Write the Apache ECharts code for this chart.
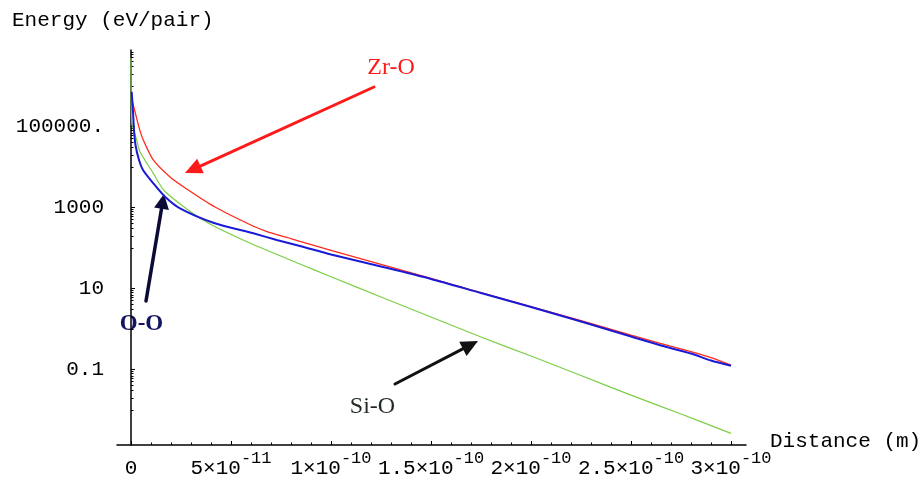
<!DOCTYPE html>
<html>
<head>
<meta charset="utf-8">
<script src="https://cdn.jsdelivr.net/npm/echarts@6/dist/echarts.min.js"></script>
<style>
  html, body { margin: 0; padding: 0; background: #ffffff; }
  #chart { width: 922px; height: 483px; }
</style>
</head>
<body>
<div id="chart"></div>
<script>
// Pair interaction energy (eV/pair) against interatomic distance (m)

// Zr-O pair
const distZrO = [3.5e-13, 2.0e-12, 4.15e-12, 6.15e-12, 1.115e-11, 1.95e-11, 2.785e-11,
  4.2e-11, 6.1e-11, 6.8e-11, 7.8e-11, 8.45e-11, 1.0e-10, 1.25e-10, 1.5e-10, 1.75e-10,
  2.0e-10, 2.25e-10, 2.5e-10, 2.65e-10, 2.8e-10, 2.9e-10, 3.0e-10];
const energyZrO = [4.97e5, 2.32e5, 9.0e4, 4.64e4, 1.49e4, 5660, 2870,
  1028, 349, 255, 182, 145, 87.7, 39.2, 17.7, 7.96,
  3.59, 1.62, 0.711, 0.439, 0.278, 0.198, 0.129];

// O-O pair
const distOO = [3.5e-13, 1.0e-12, 1.5e-12, 2.25e-12, 4.0e-12, 6.0e-12, 1.115e-11, 1.7e-11,
  2.45e-11, 4.115e-11, 6.115e-11, 7.285e-11, 8.45e-11, 1.0e-10, 1.25e-10, 1.5e-10, 1.75e-10,
  2.0e-10, 2.25e-10, 2.5e-10, 2.65e-10, 2.8e-10, 2.9e-10, 3.0e-10];
const energyOO = [7.22e5, 2.32e5, 8.2e4, 3.49e4, 1.49e4, 8430, 3960, 1850,
  955, 422, 231, 158, 112, 69.1, 34.9, 17.2, 7.74,
  3.49, 1.53, 0.653, 0.392, 0.248, 0.167, 0.124];

// Si-O pair
const distSiO = [0, 3.5e-13, 2.85e-12, 4.5e-12, 1.115e-11, 1.7e-11, 3.6e-11, 5.6e-11,
  8.45e-11, 1.0e-10, 1.25e-10, 1.5e-10, 1.75e-10, 2.0e-10, 2.25e-10, 2.5e-10, 2.75e-10, 3.0e-10];
const energySiO = [4.91e6, 1.32e5, 4.64e4, 2.39e4, 6980, 2480, 491, 158,
  40.3, 19.5, 6.17, 1.98, 0.634, 0.215, 0.0711, 0.0234, 0.00796, 0.00266];

// Axis ticks
const xTickValues = [0, 0.5e-10, 1.0e-10, 1.5e-10, 2.0e-10, 2.5e-10, 3.0e-10];
const xTickLabels = ['0', '5×10^-11', '1×10^-10', '1.5×10^-10', '2×10^-10', '2.5×10^-10', '3×10^-10'];
const yTickValues = [0.1, 10, 1000, 100000];
const yTickLabels = ['0.1', '10', '1000', '100000.'];

const X_MIN = -0.07e-10, X_MAX = 3.075e-10;
const Y_MIN = 0.00137, Y_MAX = 7.74e6;

const MONO = '"Liberation Mono", "Courier New", monospace';
const SERIF = '"Liberation Serif", "Times New Roman", serif';

// minor ticks: every 1e-11 on x; 10^e and 2..9 x 10^e for even e on y
const xMinor = [];
for (let k = 1; k <= 30; k++) { if (k % 5 !== 0) xMinor.push(k * 1e-11); }
const yMinor = [];
[-2, 0, 2, 4, 6].forEach(e => {
  for (let m = 1; m <= 9; m++) {
    const v = m * Math.pow(10, e);
    if (v > Y_MIN && v < Y_MAX) yMinor.push(v);
  }
});

function pairs(xs, ys) { return xs.map((x, i) => [x, ys[i]]); }

function xLabel(v) {
  const i = xTickValues.findIndex(t => Math.abs(t - v) < 1e-13);
  if (i < 0) return '';
  const parts = xTickLabels[i].split('^');
  return parts.length > 1 ? '{b|' + parts[0] + '}{s|' + parts[1] + '}' : '{b|' + parts[0] + '}';
}
function yLabel(v) {
  const i = yTickValues.findIndex(t => Math.abs(Math.log10(t) - Math.log10(v)) < 1e-6);
  return i < 0 ? '' : yTickLabels[i];
}

// straight arrow with a filled triangular head
function arrow(tail, tip, color, lw, headLen, headHalf) {
  const dx = tip[0] - tail[0], dy = tip[1] - tail[1];
  const len = Math.hypot(dx, dy), ux = dx / len, uy = dy / len;
  const bx = tip[0] - ux * headLen, by = tip[1] - uy * headLen;
  return [
    { type: 'line', silent: true,
      shape: { x1: tail[0], y1: tail[1], x2: bx + ux * 2, y2: by + uy * 2 },
      style: { stroke: color, lineWidth: lw, lineCap: 'round' } },
    { type: 'polygon', silent: true,
      shape: { points: [tip, [bx - uy * headHalf, by + ux * headHalf], [bx + uy * headHalf, by - ux * headHalf]] },
      style: { fill: color } }
  ];
}

const chart = echarts.init(document.getElementById('chart'), null, { renderer: 'canvas' });

const tickLine = { color: '#000', width: 1 };

chart.setOption({
  animation: false,
  backgroundColor: '#ffffff',
  grid: { left: 117, right: 176, top: 50, bottom: 38, containLabel: false, outerBoundsMode: 'none' },
  xAxis: [
    {
      type: 'value', min: X_MIN, max: X_MAX,
      axisLine: { show: true, onZero: false, lineStyle: { color: '#000', width: 1.5 } },
      axisTick: { show: true, inside: true, length: 4, lineStyle: tickLine, customValues: xTickValues },
      axisLabel: {
        show: true, customValues: xTickValues, formatter: xLabel, margin: 3, color: '#000',
        rich: {
          b: { fontFamily: MONO, fontSize: 21, color: '#000', padding: [10, 0, 0, 0] },
          s: { fontFamily: MONO, fontSize: 17, color: '#000', padding: [0, 0, 10, 0] }
        }
      },
      splitLine: { show: false }
    },
    {
      type: 'value', min: X_MIN, max: X_MAX, position: 'bottom',
      axisLine: { show: false },
      axisTick: { show: true, inside: true, length: 2.5, lineStyle: tickLine, customValues: xMinor },
      axisLabel: { show: false },
      splitLine: { show: false }
    }
  ],
  yAxis: [
    {
      type: 'log', logBase: 10, min: Y_MIN, max: Y_MAX,
      axisLine: { show: true, lineStyle: { color: '#000', width: 1.5 } },
      axisTick: { show: true, inside: true, length: 4, lineStyle: tickLine, customValues: yTickValues },
      axisLabel: { show: true, customValues: yTickValues, formatter: yLabel, margin: 13, fontFamily: MONO, fontSize: 21, color: '#000' },
      splitLine: { show: false }
    },
    {
      type: 'log', logBase: 10, min: Y_MIN, max: Y_MAX, position: 'left',
      axisLine: { show: false },
      axisTick: { show: true, inside: true, length: 2.5, lineStyle: tickLine, customValues: yMinor },
      axisLabel: { show: false },
      splitLine: { show: false }
    }
  ],
  series: [
    {
      name: 'Si-O', type: 'line', xAxisIndex: 0, yAxisIndex: 0, showSymbol: false, smooth: 0.25,
      data: pairs(distSiO, energySiO),
      lineStyle: { color: '#7ccf45', width: 1.2 }
    },
    {
      name: 'Zr-O', type: 'line', xAxisIndex: 0, yAxisIndex: 0, showSymbol: false, smooth: 0.25,
      data: pairs(distZrO, energyZrO),
      lineStyle: { color: '#ff2a1a', width: 1.3 }
    },
    {
      name: 'O-O', type: 'line', xAxisIndex: 0, yAxisIndex: 0, showSymbol: false, smooth: 0.25,
      data: pairs(distOO, energyOO),
      lineStyle: { color: '#1a1ad6', width: 2 }
    }
  ],
  graphic: [
    { type: 'text', silent: true, x: 12, y: 20,
      style: { text: 'Energy (eV/pair)', fill: '#000', font: '21px ' + MONO, align: 'left', verticalAlign: 'middle' } },
    { type: 'text', silent: true, x: 770, y: 441,
      style: { text: 'Distance (m)', fill: '#000', font: '21px ' + MONO, align: 'left', verticalAlign: 'middle' } },
    ...arrow([374, 87], [185, 173], '#ff1a1a', 3, 17, 8),
    ...arrow([146, 301], [164, 194], '#0b0b35', 3.5, 15, 7.5),
    ...arrow([395, 384], [478, 341], '#111111', 3, 17, 8),
    { type: 'text', silent: true, x: 391, y: 68,
      style: { text: 'Zr-O', fill: '#ff1a1a', font: '24px ' + SERIF, align: 'center', verticalAlign: 'middle' } },
    { type: 'text', silent: true, x: 141.5, y: 324,
      style: { text: 'O-O', fill: '#141460', font: 'bold 23px ' + SERIF, align: 'center', verticalAlign: 'middle' } },
    { type: 'text', silent: true, x: 372.5, y: 407,
      style: { text: 'Si-O', fill: '#1f2a22', font: '24px ' + SERIF, align: 'center', verticalAlign: 'middle' } }
  ]
});
</script>
</body>
</html>
